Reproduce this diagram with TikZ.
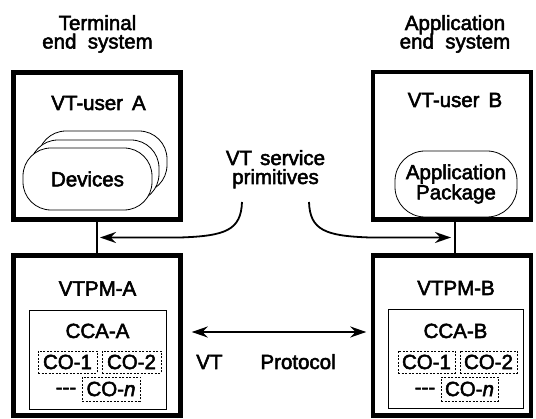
\documentclass[tikz,border=0pt]{standalone}
\usepackage{fontspec}
\setmainfont{Liberation Sans}[UprightFeatures={FakeBold=2.5},ItalicFeatures={FakeBold=2.5}]
\usetikzlibrary{arrows.meta,calc}
\tikzset{
	sysbox/.style={draw, line width=4.5pt, inner sep=0pt},
	ccabox/.style={draw, line width=0.8pt, inner sep=0pt},
	cobox/.style={draw, dash pattern=on 2pt off 1.5pt, line width=0.7pt, inner sep=0pt, minimum height=22pt},
	devbox/.style={draw, fill=white, line width=0.8pt, rounded corners=28pt, minimum width=129pt, minimum height=62pt},
	txt/.style={align=center, inner sep=0pt},
	ln/.style={inner sep=0pt, anchor=base},
	svcarrow/.style={line width=1.8pt, -{Stealth[length=16pt,width=11pt]}},
	protoarrow/.style={line width=1.8pt, {Stealth[length=16pt,width=11pt]}-{Stealth[length=16pt,width=11pt]}},
}

\begin{document}
\begin{tikzpicture}[x=1pt,y=-1pt,font=\fontsize{20.5}{18}\selectfont]
\useasboundingbox (0,0) rectangle (536,419);

\node[ln] (termsys) at (97.5,30) {Terminal};
\node[ln] (termsys2) at (97.5,48.5) {end\ \ system};
\node[ln] (appsys) at (455,30) {Application};
\node[ln] (appsys2) at (455,48.5) {end\ \ system};

\node[sysbox, minimum width=167pt, minimum height=147pt] (userA) at (97,146) {};
\node[sysbox, minimum width=167pt, minimum height=160pt] (vtpmA) at (97,335.5) {};
\node[sysbox, minimum width=158pt, minimum height=147.5pt] (userB) at (452,145.75) {};
\node[sysbox, minimum width=158pt, minimum height=160pt] (vtpmB) at (452,335.5) {};

\draw[line width=1.3pt] (userA) -- (vtpmA);
\draw[line width=1.3pt] ([xshift=3pt]userB.south) -- ([xshift=3pt]vtpmB.north);

\node[ln] (userAlbl) at (98.5,110) {VT-user\hspace{9pt}A};
\node[ln] (userBlbl) at (455,107) {VT-user\hspace{9pt}B};

% stacked devices
\node[devbox] (devC) at (102.5,162) {};
\node[devbox] (devB) at (94.5,171) {};
\node[devbox] (devA) at (87.5,179) {Devices};

\node[devbox, txt, minimum width=122pt, minimum height=66pt, rounded corners=30pt] (app) at (456,184) {Application\\Package};

\node[ln] (vtpmAlbl) at (97.5,295.5) {VTPM-A};
\node[ln] (vtpmBlbl) at (456,295) {VTPM-B};

\node[ccabox, minimum width=137pt, minimum height=99pt] (ccaA) at (97.5,359.5) {};
\node[ccabox, minimum width=135pt, minimum height=99pt] (ccaB) at (455.5,358.5) {};
\node[ln] (ccaAlbl) at (97.5,338) {CCA-A};
\node[ln] (ccaBlbl) at (455.5,338) {CCA-B};

\node[cobox, minimum width=59pt] (coA1) at (67.5,362) {CO-1};
\node[cobox, minimum width=59pt] (coA2) at (131.5,362) {CO-2};
\node[cobox, minimum width=58pt, minimum height=24pt] (coAn) at (111,389) {CO-\textit{n}};
\node[txt] (dotsA) at (66,391) {{-}{-}{-}};
\node[cobox, minimum width=57pt] (coB1) at (426.5,362) {CO-1};
\node[cobox, minimum width=57pt] (coB2) at (488.5,362) {CO-2};
\node[cobox, minimum width=57pt, minimum height=24pt] (coBn) at (469.5,389) {CO-\textit{n}};
\node[txt] (dotsB) at (425,391) {{-}{-}{-}};

% service primitives
\node[ln] (prim) at (275.5,165) {VT\hspace{8pt}service};
\node[ln] (prim2) at (275.5,184) {primitives};
\coordinate (primA) at (242,202);
\coordinate (primB) at (309,202);
\coordinate (sapA) at ($(userA.south)!0.5!(vtpmA.north)$);
\coordinate (sapB) at ($([xshift=3pt]userB.south)!0.5!([xshift=3pt]vtpmB.north)$);
\draw[svcarrow] (primA) .. controls (241,230) and (226,236) .. (180,237.5) -- ([xshift=3pt]sapA);
\draw[svcarrow] (primB) .. controls (310,230) and (325,236) .. (370,237.5) -- ([xshift=-4pt]sapB);

% protocol
\draw[protoarrow, shorten <=9pt, shorten >=4.5pt] ([yshift=3.5pt]vtpmA.east) -- ([yshift=3.5pt]vtpmB.west);
\node[ln] (proto) at (266,369) {VT\hspace{38pt}Protocol};
\end{tikzpicture}
\end{document}
